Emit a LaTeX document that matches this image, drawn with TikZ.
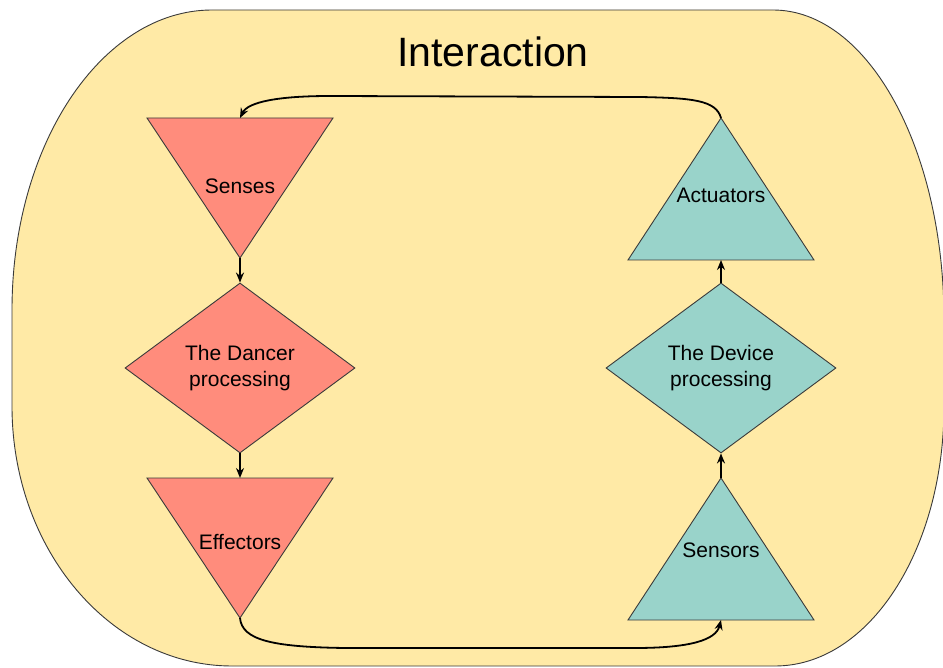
\documentclass[tikz,border=0pt]{standalone}
\usepackage{fontspec}
\setmainfont{Liberation Sans}
\usetikzlibrary{shapes.geometric,arrows.meta}

\definecolor{bgyellow}{HTML}{FFEAA6}
\definecolor{dancered}{HTML}{FF8C7C}
\definecolor{deviceteal}{HTML}{99D3CA}
\definecolor{edgegray}{HTML}{3A3A3A}

\tikzset{
  redpart/.style={fill=dancered, draw=edgegray, line width=0.9pt},
  tealpart/.style={fill=deviceteal, draw=edgegray, line width=0.9pt},
  parttext/.style={font=\fontsize{21}{26}\selectfont, align=center, inner sep=0pt},
  brain/.style={diamond, aspect=1.35, minimum width=230pt, minimum height=170pt},
  flow/.style={-{Stealth[length=10pt,width=8pt]}, line width=1.8pt, black},
}

\begin{document}
\begin{tikzpicture}[x=1pt,y=-1pt]
\useasboundingbox (0,0) rectangle (943,668);
\fill [white] (0,0) rectangle (943,668);
% outer frame
\draw [fill=bgyellow, draw=edgegray, line width=0.9pt]
  (212,10) -- (773,10)
  .. controls (868,10) and (944,149) .. (944,320) -- (944,406)
  .. controls (944,550) and (869,666) .. (775,666) -- (232,666)
  .. controls (111,666) and (12,550) .. (12,406) -- (12,310)
  .. controls (12,144) and (102,10) .. (212,10) -- cycle;
\node [font=\fontsize{41}{48}\selectfont, inner sep=0pt] (title) at (493,52) {Interaction};

% the dancer
\draw [redpart] (147,118) -- (333,118) -- (240,258) -- cycle;
\coordinate (senses in) at (240,118);
\coordinate (senses out) at (240,258);
\node [parttext] (senses) at (240,186) {Senses};

\node [brain, redpart, parttext] (dancer) at (240,368) {The Dancer\\processing};

\draw [redpart] (147,478) -- (333,478) -- (240,618) -- cycle;
\coordinate (effectors in) at (240,478);
\coordinate (effectors out) at (240,618);
\node [parttext] (effectors) at (240,542) {Effectors};

% the device
\draw [tealpart] (628,620) -- (814,620) -- (721,478) -- cycle;
\coordinate (sensors in) at (721,620);
\coordinate (sensors out) at (721,478);
\node [parttext] (sensors) at (721,550) {Sensors};

\node [brain, tealpart, parttext] (device) at (721,368) {The Device\\processing};

\draw [tealpart] (628,260) -- (814,260) -- (721,118) -- cycle;
\coordinate (actuators in) at (721,260);
\coordinate (actuators out) at (721,118);
\node [parttext] (actuators) at (721,195) {Actuators};

% connectors
\draw [flow] (senses out) -- (dancer.north);
\draw [flow] (dancer.south) -- (effectors in);
\draw [flow] (sensors out) -- (device.south);
\draw [flow] (device.north) -- (actuators in);
\draw [flow] (actuators out) .. controls (716,100) and (692,98) .. (640,97)
  -- (330,96) .. controls (278,96) and (248,102) .. (senses in);
\draw [flow] (effectors out) .. controls (242,640) and (272,647) .. (345,648)
  -- (635,648) .. controls (690,648) and (716,640) .. (sensors in);
\end{tikzpicture}
\end{document}
